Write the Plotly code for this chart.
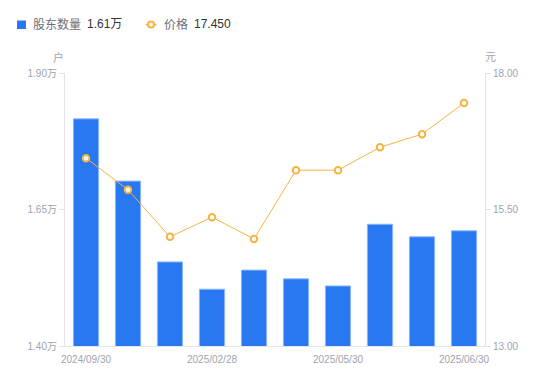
import plotly.graph_objects as go

dates = ["2024/09/30", "2024/12/31", "2025/01/20", "2025/02/28", "2025/03/31",
         "2025/04/30", "2025/05/30", "2025/06/10", "2025/06/20", "2025/06/30"]
holders = [18160, 17020, 15540, 15040, 15390, 15230, 15100, 16230, 16000, 16110]
price = [16.44, 15.86, 15.00, 15.36, 14.96, 16.22, 16.22, 16.64, 16.88, 17.45]
shown_ticks = ["2024/09/30", "2025/02/28", "2025/05/30", "2025/06/30"]
left_ticks = [14000, 16500, 19000]
left_labels = ["1.40万", "1.65万", "1.90万"]
right_ticks = [13.0, 15.5, 18.0]
right_labels = ["13.00", "15.50", "18.00"]
legend_names = ["股东数量", "价格"]
legend_values = ["1.61万", "17.450"]

FONT = "Liberation Sans, Noto Sans CJK SC, sans-serif"
GRAY = "#a0a3ae"
AXIS = "#e3e5ea"
BLUE = "#2878f2"
ORANGE = "#f7b43f"

# the page body has an 8px default margin; size the figure to fit the window
OFF = 8
W, H = 550 - OFF, 381 - OFF
L, T = 65 - OFF, 73 - OFF
PW, PH = 420, 273
R, B = W - L - PW, H - T - PH


def px(x):
    return (x - OFF - L) / PW


def py(y):
    return (H - B - (y - OFF)) / PH


fig = go.Figure()
fig.add_trace(go.Bar(
    x=dates, y=holders, name=legend_names[0],
    marker=dict(color=BLUE, line=dict(color="#8bb8ff", width=1)),
    yaxis="y", showlegend=False,
))
fig.add_trace(go.Scatter(
    x=dates, y=price, name=legend_names[1],
    mode="lines+markers",
    line=dict(color=ORANGE, width=1),
    marker=dict(symbol="circle", size=6.5, color="#ffffff",
                line=dict(color=ORANGE, width=2)),
    yaxis="y2", showlegend=False,
))

shapes = [
    dict(type="rect", xref="paper", yref="paper", x0=px(17), x1=px(26),
         y0=py(29), y1=py(20.5), fillcolor=BLUE, line=dict(width=0), layer="above"),
    dict(type="line", xref="paper", yref="paper", x0=px(145.5), x1=px(156.5),
         y0=py(24.5), y1=py(24.5), line=dict(color=ORANGE, width=1.5)),
    dict(type="circle", xref="paper", yref="paper", x0=px(148), x1=px(154),
         y0=py(27.5), y1=py(21.5), fillcolor="white", line=dict(color=ORANGE, width=2)),
]

annotations = [
    dict(text=legend_names[0], x=px(31), y=py(24.5), xanchor="left", yanchor="middle",
         font=dict(size=12, color="#6b6f7a")),
    dict(text=legend_values[0], x=px(84.5), y=py(24.5), xanchor="left", yanchor="middle",
         font=dict(size=12, color="#333333")),
    dict(text=legend_names[1], x=px(161.5), y=py(24.5), xanchor="left", yanchor="middle",
         font=dict(size=12, color="#6b6f7a")),
    dict(text=legend_values[1], x=px(191.5), y=py(24.5), xanchor="left", yanchor="middle",
         font=dict(size=12, color="#333333")),
    dict(text="户", x=px(58), y=py(57), xanchor="center", yanchor="middle",
         font=dict(size=11, color=GRAY)),
    dict(text="元", x=px(490), y=py(57), xanchor="center", yanchor="middle",
         font=dict(size=11, color=GRAY)),
]
for a in annotations:
    a.update(xref="paper", yref="paper", showarrow=False)

fig.update_layout(
    width=W, height=H,
    margin=dict(l=L, r=R, t=T, b=B, autoexpand=False),
    paper_bgcolor="white", plot_bgcolor="white",
    font=dict(family=FONT, size=10, color=GRAY),
    bargap=0.4,
    showlegend=False,
    shapes=shapes,
    annotations=annotations,
    xaxis=dict(type="category", range=[-0.5, 9.5],
               tickmode="array", tickvals=shown_ticks, ticktext=shown_ticks,
               showgrid=False, showline=True, linecolor=AXIS, linewidth=1,
               ticks="", ticklabelstandoff=4,
               tickfont=dict(size=10, color=GRAY), zeroline=False),
    yaxis=dict(range=[14000, 19000], tickmode="array", tickvals=left_ticks,
               ticktext=left_labels, showgrid=False, showline=True,
               linecolor=AXIS, linewidth=1, ticks="outside", ticklen=5,
               tickcolor=AXIS, tickfont=dict(size=10, color=GRAY), zeroline=False),
    yaxis2=dict(range=[13, 18], overlaying="y", side="right", tickmode="array",
                tickvals=right_ticks, ticktext=right_labels, showgrid=False,
                showline=True, linecolor=AXIS, linewidth=1, ticks="outside",
                ticklen=5, tickcolor=AXIS, tickfont=dict(size=10, color=GRAY),
                zeroline=False),
)

fig.write_html("out.html")
